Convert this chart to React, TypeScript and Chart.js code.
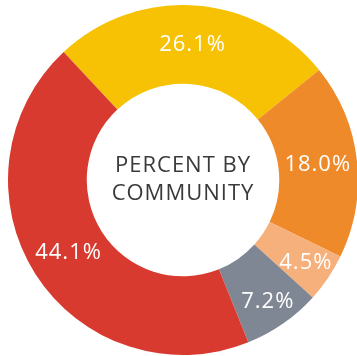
import React, { useEffect, useRef } from "react";
import { Chart, registerables } from "chart.js";

Chart.register(...registerables);

const categories = ["A", "B", "C", "D", "E"];
const values = [26.1, 18.0, 4.5, 7.2, 44.1];
const valueLabels = ["26.1%", "18.0%", "4.5%", "7.2%", "44.1%"];
const colors = ["#F6C203", "#EF8A2B", "#F6B07B", "#7F8794", "#D83A2F"];
const centerLines = ["PERCENT BY", "COMMUNITY"];

const labelPlugin = {
  id: "sliceLabels",
  afterDatasetsDraw(chart: any) {
    const ctx = chart.ctx;
    const meta = chart.getDatasetMeta(0);
    ctx.save();
    ctx.fillStyle = "#ffffff";
    ctx.font = "22px 'Open Sans'";
    try { (ctx as any).letterSpacing = "1px"; } catch (e) {}
    ctx.textAlign = "center";
    ctx.textBaseline = "middle";
    meta.data.forEach((arc: any, i: number) => {
      const p = arc.getProps(["x", "y", "startAngle", "endAngle", "innerRadius", "outerRadius"], true);
      const mid = (p.startAngle + p.endAngle) / 2;
      const span = p.endAngle - p.startAngle;
      const t = span < 0.6 ? 0.66 : 0.5;
      const r = p.innerRadius + (p.outerRadius - p.innerRadius) * t;
      ctx.fillText(valueLabels[i], p.x + Math.cos(mid) * r, p.y + Math.sin(mid) * r);
    });
    // center text
    const a = meta.data[0];
    ctx.fillStyle = "#3a3a3a";
    ctx.font = "22px 'Open Sans'";
    ctx.fillText(centerLines[0], a.x, a.y - 14);
    ctx.fillText(centerLines[1], a.x, a.y + 14);
    ctx.restore();
  },
};

export default function App() {
  const ref = useRef<HTMLCanvasElement | null>(null);
  useEffect(() => {
    if (!ref.current) return;
    const chart = new Chart(ref.current, {
      type: "doughnut",
      data: {
        labels: categories,
        datasets: [
          {
            data: values,
            backgroundColor: colors,
            borderWidth: 0,
          },
        ],
      },
      options: {
        animation: false,
        responsive: true,
        maintainAspectRatio: false,
        rotation: -43,
        cutout: "55%",
        layout: { padding: 0 },
        plugins: { legend: { display: false }, tooltip: { enabled: false } },
      },
      plugins: [labelPlugin],
    });
    return () => chart.destroy();
  }, []);
  return (
    <div style={{ position: "absolute", left: 8, top: 5, width: 350, height: 350 }}>
      <canvas ref={ref} />
    </div>
  );
}
